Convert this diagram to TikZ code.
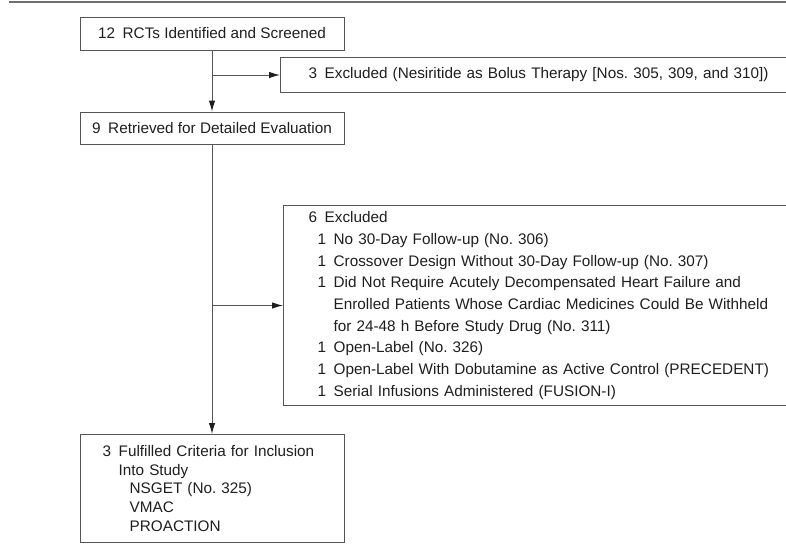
\documentclass[tikz,border=0pt]{standalone}
\usepackage{fontspec}
\setmainfont{Liberation Sans}
\usepackage{xcolor}
\usetikzlibrary{arrows.meta,positioning}
\definecolor{linegray}{HTML}{555555}
\definecolor{inkgray}{HTML}{1E1E1E}
\tikzset{box/.style={draw=linegray,line width=1pt,text=inkgray,inner ysep=0pt,
    font=\fontsize{15.3pt}{21.7pt}\selectfont},
  rul/.style={draw=linegray!85,line width=1.3pt},
  con/.style={draw=linegray,line width=1pt}}
\newcommand{\itm}{\hspace*{9pt}1\enspace}
\newcommand{\cnt}{\hspace*{9pt}\hphantom{1\enspace}}
\frenchspacing

\begin{document}
\begin{tikzpicture}[x=1pt,y=-1pt,>={Latex[length=11pt,width=6.5pt,color=inkgray]}]
    \useasboundingbox (0,0) rectangle (786,544);
    \clip (0,0) rectangle (786,544);
    \draw [rul] (9,2) -- (786,2);

    \node[box,minimum width=264pt,minimum height=33pt] (a) at (212,33.5) {12\enspace RCTs Identified and Screened};
    \node[box,anchor=west,minimum height=35pt,inner xsep=28pt,text width=480pt,align=left] (b) at (280,75)
        {3\enspace Excluded (Nesiritide as Bolus Therapy [Nos. 305, 309, and 310])};
    \node[box,minimum width=264pt,minimum height=32pt] (c) at (212,128) {9\enspace Retrieved for Detailed Evaluation};
    \node[box,anchor=north west,minimum height=200pt,inner xsep=25pt,text width=500pt,align=left] (d) at (283,205)
        {6\enspace Excluded\\
        \itm No 30-Day Follow-up (No. 306)\\
        \itm Crossover Design Without 30-Day Follow-up (No. 307)\\
        \itm Did Not Require Acutely Decompensated Heart Failure and\\
        \cnt Enrolled Patients Whose Cardiac Medicines Could Be Withheld\\
        \cnt for 24-48 h Before Study Drug (No. 311)\\
        \itm Open-Label (No. 326)\\
        \itm Open-Label With Dobutamine as Active Control (PRECEDENT)\\
        \itm Serial Infusions Administered (FUSION-I)};
    \node[box,anchor=north west,minimum height=108pt,inner xsep=22pt,text width=220pt,align=left,
        font=\fontsize{15.3pt}{18.6pt}\selectfont] (e) at (80,434)
        {3\enspace Fulfilled Criteria for Inclusion\\
        \hphantom{3\enspace}Into Study\\
        \hphantom{3\enspace}\hspace*{11pt}NSGET (No. 325)\\
        \hphantom{3\enspace}\hspace*{11pt}VMAC\\
        \hphantom{3\enspace}\hspace*{11pt}PROACTION};

    \draw [con,->] (a) to (c);
    \draw [con,->] (a.south |- b.west) to (b.west);
    \draw [con,->] (c) to (e.north -| c.south);
    \draw [con,->] (c.south |- d.west) to (d.west);
\end{tikzpicture}
\end{document}
